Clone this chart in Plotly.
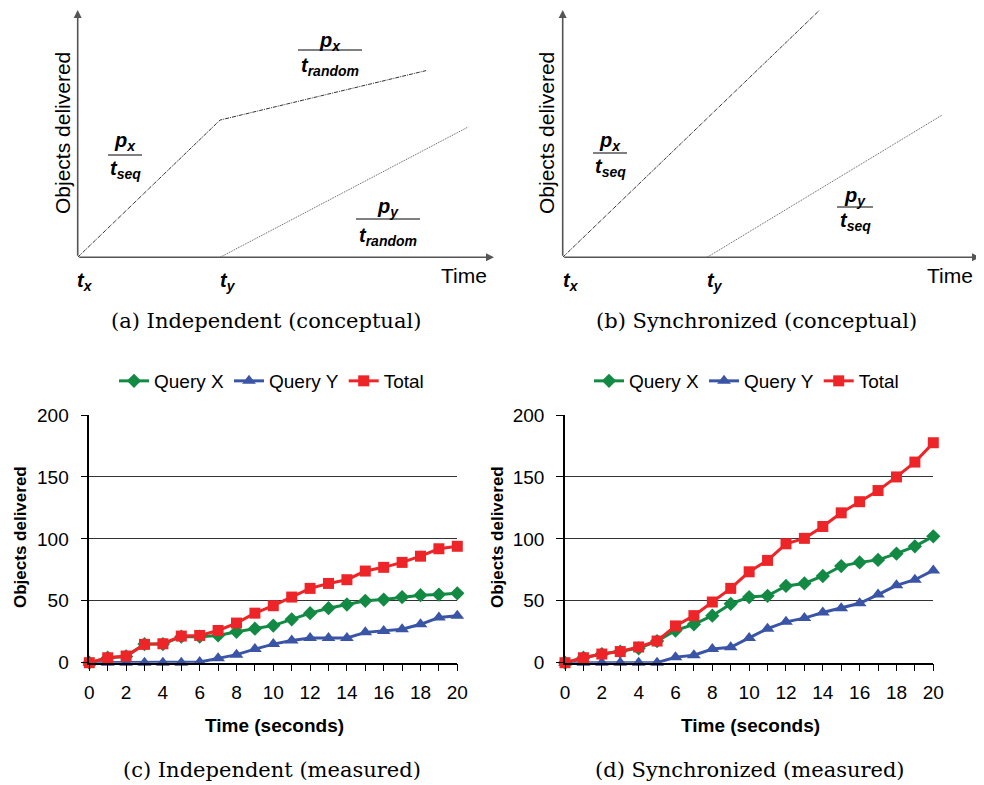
import plotly.graph_objects as go

# page offset: the browser body has an 8px margin, so the figure is 976x777
OFF = 8
W, H = 984 - OFF, 785 - OFF

# ---------------- data ----------------
seconds = list(range(21))
tick_labels = [str(v) if v % 2 == 0 else "" for v in seconds]

indep_query_x = [0, 4, 5, 15, 15, 21, 21, 22, 25, 27.5, 30, 35, 40, 44, 47, 50, 51, 53, 54.5, 55, 56]
indep_query_y = [0, 0, 0, 0, 0, 0, 0.5, 3.5, 6.5, 11, 15, 18, 20, 20, 20, 24.5, 25.5, 27, 31, 36.5, 38]
indep_total = [0, 4, 5.4, 14.8, 15.3, 21.5, 22, 26, 32, 40, 46, 53, 60, 64, 67, 74, 77, 81, 86, 92, 94]

sync_query_x = [0, 4, 7, 9, 11.6, 17.5, 26, 31, 38, 47.5, 53, 54, 62, 64, 70, 78, 81, 83, 88, 94, 102]
sync_query_y = [0, 0, 0, 0, 0, 0, 4.5, 6, 11, 12.5, 20, 27.5, 33, 36, 40.5, 44, 48, 55, 62.5, 67, 74.5]
sync_total = [0, 4, 7, 9, 12.7, 17.5, 29.7, 38, 49, 60, 73.4, 82.6, 96, 100.4, 110, 121, 130, 139, 150, 162, 177.6]

# conceptual diagrams (arbitrary units, axes 0..10)
concept_a_x_t = [0, 3.42, 8.37]
concept_a_x_v = [0, 5.55, 7.55]
concept_a_y_t = [3.42, 9.38]
concept_a_y_v = [0, 5.27]
concept_b_x_t = [0, 6.16]
concept_b_x_v = [0, 10.0]
concept_b_y_t = [3.46, 9.09]
concept_b_y_v = [0, 5.75]

series_names = ["Query X", "Query Y", "Total"]
series_colors = ["#138a44", "#3a55a6", "#ee2528"]
series_symbols = ["diamond", "triangle-up", "square"]


def px(x):
    return (x - OFF) / W


def py(y):
    return 1 - (y - OFF) / H


fig = go.Figure()

fig.update_layout(
    xaxis=dict(domain=[px(77.7), px(494)], range=[0, 10]),
    yaxis=dict(domain=[py(257.3), py(10)], range=[0, 10]),
    xaxis2=dict(domain=[px(562.7), px(980)], range=[0, 10]),
    yaxis2=dict(domain=[py(257.3), py(10)], range=[0, 10]),
)
for ax in ["xaxis", "yaxis", "xaxis2", "yaxis2"]:
    fig.layout[ax].update(visible=False, fixedrange=True)
fig.layout.xaxis2.anchor = "y2"
fig.layout.yaxis2.anchor = "x2"

line_col = "#333333"
fig.add_trace(go.Scatter(x=concept_a_x_t, y=concept_a_x_v, mode="lines", xaxis="x", yaxis="y",
                         line=dict(color=line_col, width=1, dash="4px,1px,1px,1px"), showlegend=False))
fig.add_trace(go.Scatter(x=concept_a_y_t, y=concept_a_y_v, mode="lines", xaxis="x", yaxis="y",
                         line=dict(color="#555555", width=1, dash="1px,1px"), showlegend=False))
fig.add_trace(go.Scatter(x=concept_b_x_t, y=concept_b_x_v, mode="lines", xaxis="x2", yaxis="y2",
                         line=dict(color=line_col, width=1, dash="4px,1px,1px,1px"), showlegend=False))
fig.add_trace(go.Scatter(x=concept_b_y_t, y=concept_b_y_v, mode="lines", xaxis="x2", yaxis="y2",
                         line=dict(color="#555555", width=1, dash="1px,1px"), showlegend=False))

annotations = []
shapes = []
sans = "Liberation Sans, Arial, sans-serif"
serif = "DejaVu Serif, serif"

for xr, yr in [("x", "y"), ("x2", "y2")]:
    annotations.append(dict(x=10, y=0, ax=0, ay=0, xref=xr, yref=yr, axref=xr, ayref=yr, text="",
                            showarrow=True, arrowhead=2, arrowsize=1, arrowwidth=1.6, arrowcolor="#555555"))
    annotations.append(dict(x=0, y=10, ax=0, ay=0, xref=xr, yref=yr, axref=xr, ayref=yr, text="",
                            showarrow=True, arrowhead=2, arrowsize=1, arrowwidth=1.6, arrowcolor="#555555"))


def text_px(x, y, text, size, font=sans, angle=0, color="black"):
    annotations.append(dict(x=px(x), y=py(y), xref="paper", yref="paper", text=text, showarrow=False,
                            font=dict(family=font, size=size, color=color), textangle=angle,
                            xanchor="center", yanchor="middle"))


def fraction(x, y_num, y_line, y_den, num, den, half):
    text_px(x, y_num, num, 20)
    text_px(x, y_den, den, 20)
    shapes.append(dict(type="line", xref="paper", yref="paper", x0=px(x - half), x1=px(x + half),
                       y0=py(y_line), y1=py(y_line), line=dict(color="black", width=1)))


def bi(base, sub):
    return f"<b><i>{base}<sub>{sub}</sub></i></b>"


# panel (a)
text_px(63, 133, "Objects delivered", 21, angle=-90)
text_px(464, 275, "Time", 21)
text_px(85, 281, bi("t", "x"), 20)
text_px(228, 281, bi("t", "y"), 20)
fraction(125, 142, 155, 169, bi("p", "x"), bi("t", "seq"), 17)
fraction(330, 42, 50, 66, bi("p", "x"), bi("t", "random"), 32)
fraction(388, 207, 219, 236, bi("p", "y"), bi("t", "random"), 32)
text_px(266, 321, "(a) Independent (conceptual)", 21, font=serif)

# panel (b)
text_px(547, 133, "Objects delivered", 21, angle=-90)
text_px(950, 275, "Time", 21)
text_px(571, 281, bi("t", "x"), 20)
text_px(715, 281, bi("t", "y"), 20)
fraction(610, 141, 153, 168, bi("p", "x"), bi("t", "seq"), 17)
fraction(855, 196, 207, 221, bi("p", "y"), bi("t", "seq"), 18)
text_px(756, 321, "(b) Synchronized (conceptual)", 21, font=serif)

measured = [
    ("x3", "y3", "legend", [indep_query_x, indep_query_y, indep_total], 89.3, 457.3),
    ("x4", "y4", "legend2", [sync_query_x, sync_query_y, sync_total], 565, 933.3),
]
for xa, ya, lg, data, left, right in measured:
    for name, vals, col, sym in zip(series_names, data, series_colors, series_symbols):
        fig.add_trace(go.Scatter(x=seconds, y=vals, name=name, mode="lines+markers", xaxis=xa, yaxis=ya,
                                 legend=lg, cliponaxis=False,
                                 line=dict(color=col, width=3),
                                 marker=dict(symbol=sym, size=11 if sym != "triangle-up" else 12, color=col)))
    xn = "xaxis" + xa[1:]
    yn = "yaxis" + ya[1:]
    fig.layout[xn] = dict(domain=[px(left), px(right)], range=[0, 20], anchor=ya,
                          tickvals=seconds, ticktext=tick_labels, ticks="outside", ticklen=7,
                          tickcolor="black", showline=True, linecolor="black", linewidth=1.5,
                          showgrid=False, zeroline=False, tickfont=dict(family=sans, size=19, color="black"),
                          fixedrange=True, ticklabelstandoff=5)
    fig.layout[yn] = dict(domain=[py(662.7), py(415)], range=[0, 200], anchor=xa,
                          tickvals=[0, 50, 100, 150, 200], ticks="outside", ticklen=7,
                          tickcolor="black", showline=True, linecolor="black", linewidth=1.5,
                          showgrid=True, gridcolor="#333333", gridwidth=1.3, zeroline=False,
                          tickfont=dict(family=sans, size=19, color="black"),
                          fixedrange=True, ticklabelstandoff=8)

text_px(20, 537, "<b>Objects delivered</b>", 17, angle=-90)
text_px(274, 725, "<b>Time (seconds)</b>", 19)
text_px(272, 770, "(c) Independent (measured)", 21, font=serif)

text_px(497, 537, "<b>Objects delivered</b>", 17, angle=-90)
text_px(750, 725, "<b>Time (seconds)</b>", 19)
text_px(750, 770, "(d) Synchronized (measured)", 21, font=serif)

legend_common = dict(orientation="h", yanchor="middle", xanchor="left", font=dict(family=sans, size=19, color="black"),
                     bgcolor="rgba(0,0,0,0)", itemwidth=30, tracegroupgap=0, itemclick=False, itemdoubleclick=False)
fig.update_layout(
    legend=dict(x=px(114), y=py(381), **legend_common),
    legend2=dict(x=px(589), y=py(381), **legend_common),
)

fig.update_layout(
    width=W, height=H, margin=dict(l=0, r=0, t=0, b=0, pad=0, autoexpand=False),
    paper_bgcolor="white", plot_bgcolor="white",
    annotations=annotations, shapes=shapes,
    font=dict(family=sans, color="black"),
)

fig.write_html("out.html", config={"displayModeBar": False})
